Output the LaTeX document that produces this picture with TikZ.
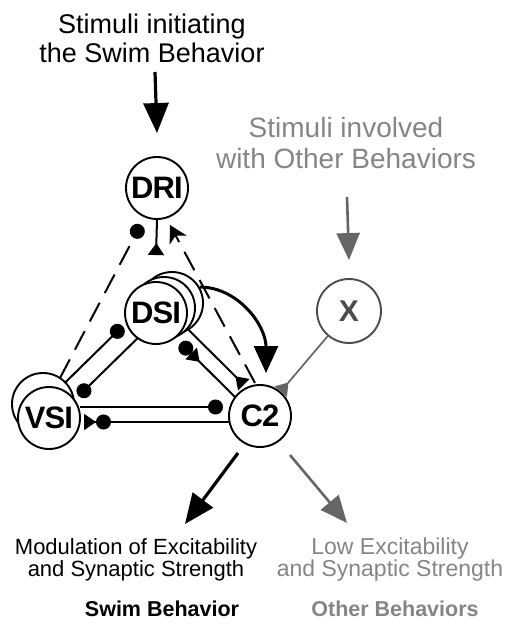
\documentclass[tikz,border=0pt]{standalone}
\usepackage{fontspec}
\setmainfont{Liberation Sans}
\usetikzlibrary{arrows.meta,calc}
\definecolor{gtxt}{gray}{0.52}
\definecolor{gline}{gray}{0.4}
\definecolor{gcirc}{gray}{0.3}
\begin{document}
\begin{tikzpicture}[x=1pt,y=-1pt,
  neuron/.style={circle,draw,line width=1.9pt,fill=white,minimum size=62pt,inner sep=0pt,font=\fontsize{31}{31}\selectfont\bfseries\addfontfeature{LetterSpace=-3}},
  syn/.style={line width=2pt},
  inh/.style={syn,-{Circle[length=15pt]}},
  exc/.style={syn,-{Triangle[reversed,length=12pt,width=16pt]}},
  dsh/.style={line width=2pt,dash pattern=on 21pt off 11pt},
  bigarrow/.style={line width=3.2pt,-{Triangle[length=30pt,width=25pt]}},
  garrow/.style={line width=2.6pt,draw=gline,-{Triangle[length=27pt,width=23pt]},color=gline},
  ttext/.style={align=center,font=\fontsize{27}{29}\selectfont},
  gtext/.style={align=center,text=gtxt,font=\fontsize{28}{31}\selectfont},
  btext/.style={align=center,font=\fontsize{22}{22}\selectfont},
  gbtext/.style={align=center,text=gtxt,font=\fontsize{23}{22}\selectfont},
  hdtext/.style={font=\fontsize{21.5}{22}\selectfont\bfseries},
]
\useasboundingbox (0,0) rectangle (511,625);

% texts
\node[ttext] (title) at (152,38) {Stimuli initiating\\the Swim Behavior};
\node[gtext] (other) at (346,143) {Stimuli involved\\with Other Behaviors};
\node[btext] (mod) at (136,560) {Modulation of Excitability\\and Synaptic Strength};
\node[gbtext] (low) at (390,560) {Low Excitability\\and Synaptic Strength};
\node[hdtext] (swim) at (162,609) {Swim Behavior};
\node[hdtext,text=gtxt] (oth) at (395,609) {Other Behaviors};

% neurons
\node[neuron] (DRI) at (157,188) {DRI};
\node[neuron] (DSIc) at (172,303) {};
\node[neuron] (DSIb) at (164,308) {};
\node[neuron] (DSI) at (156,313) {DSI};
\node[neuron] (VSIb) at (43,404) {};
\node[neuron] (VSI) at (49,418) {VSI};
\node[neuron] (C2) at (260,416) {C2};
\node[neuron,draw=gcirc,text=gcirc,font=\fontsize{30}{30}\selectfont\bfseries,minimum size=64pt] (X) at (349,311) {X};

% free ends
\coordinate (swimtop) at (155,72);
\coordinate (othtop) at (347,197);
\coordinate (out1) at (185,524);
\coordinate (out2) at (347,523);

% input arrows
\draw[bigarrow] (swimtop) -- ([yshift=23pt]DRI.north);
\draw[garrow] (othtop) -- ([yshift=18pt]X.north);

% DRI -> DSI
\draw[exc] (DRI.south) -- ([yshift=26pt]DSI.north);

% dashed
\draw[dsh,-{Circle[length=15pt]}] ([shift={(11,-40)}]VSI.center) -- ([shift={(-16.2,36.7)}]DRI.center);
\draw[dsh,-{Stealth[length=17pt,width=19pt,inset=5pt]}] ([shift={(-5,-33)}]C2.center) -- ([shift={(13,37)}]DRI.center);

% DSI <-> VSI
\draw[inh] ([shift={(15.9,-35.2)}]VSI.center) -- ([shift={(-33.3,13.1)}]DSI.center);
\draw[inh] ([shift={(-17.8,24.6)}]DSI.center) -- ([shift={(29.6,-22)}]VSI.center);

% DSI <-> C2
\draw[exc] ([shift={(31.1,15.4)}]DSI.center) -- ([shift={(-16.1,-31.2)}]C2.center);
\draw[syn,-{Triangle[reversed,length=12pt,width=16pt] Circle[length=15pt]}] ([shift={(-24.4,-18.5)}]C2.center) -- ([shift={(24.5,29.9)}]DSI.center);

% VSI <-> C2
\draw[inh] ([shift={(31,-11)}]VSI.center) -- ([shift={(-37,-9)}]C2.center);
\draw[syn,-{Circle[length=15pt] Triangle[reversed,length=12pt,width=16pt]}] ([shift={(-31,6)}]C2.center) -- ([shift={(35,4)}]VSI.center);

% curved DSI -> C2
\draw[line width=3pt,-{Triangle[length=27pt,width=24pt]}] (DSIc.30) .. controls +(38,0) and +(0,-48) .. ([shift={(6,-43)}]C2.center);

% X -> C2
\draw[syn,draw=gline,line width=1.7pt,-{Triangle[reversed,length=12pt,width=16pt]},color=gline] (X) -- (C2);

% outputs
\draw[bigarrow] ([shift={(-22,37)}]C2.center) -- (out1);
\draw[garrow] ([shift={(30,39)}]C2.center) -- (out2);
\end{tikzpicture}
\end{document}
